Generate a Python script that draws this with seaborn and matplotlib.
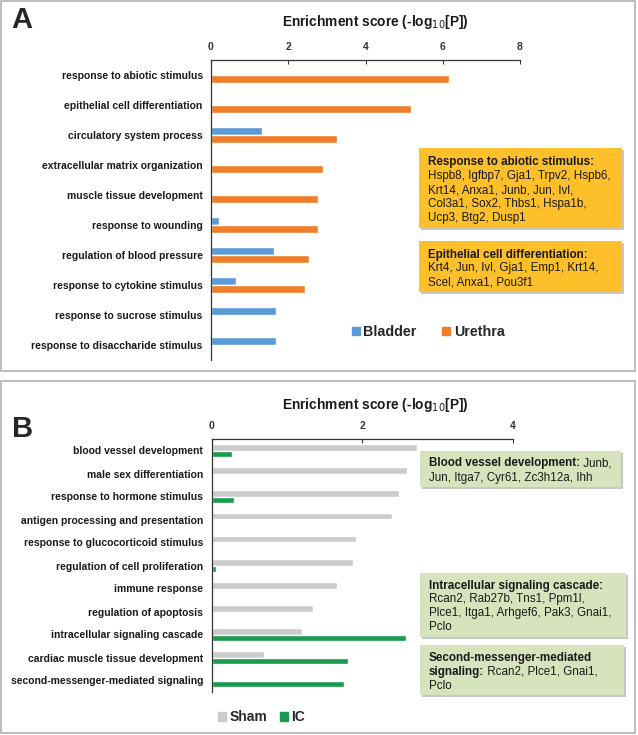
import numpy as np
import pandas as pd
import seaborn as sns
import matplotlib.pyplot as plt
from matplotlib.patches import Rectangle, Patch

# ---- data, panel A ----
terms_a = ["response to abiotic stimulus", "epithelial cell differentiation",
           "circulatory system process", "extracellular matrix organization",
           "muscle tissue development", "response to wounding",
           "regulation of blood pressure", "response to cytokine stimulus",
           "response to sucrose stimulus", "response to disaccharide stimulus"]
bladder = [0, 0, 1.31, 0, 0, 0.21, 1.62, 0.65, 1.69, 1.69]
urethra = [6.17, 5.17, 3.26, 2.90, 2.78, 2.76, 2.55, 2.44, 0, 0]

# ---- data, panel B ----
terms_b = ["blood vessel development", "male sex differentiation",
           "response to hormone stimulus", "antigen processing and presentation",
           "response to glucocorticoid stimulus", "regulation of cell proliferation",
           "immune response", "regulation of apoptosis",
           "intracellular signaling cascade", "cardiac muscle tissue development",
           "second-messenger-mediated signaling"]
sham = [2.73, 2.59, 2.49, 2.40, 1.92, 1.88, 1.67, 1.35, 1.20, 0.70, 0]
ic = [0.27, 0, 0.30, 0, 0, 0.06, 0, 0, 2.58, 1.81, 1.75]

ticks_a = [0, 2, 4, 6, 8]
ticks_b = [0, 2, 4]

W, H = 638, 735
sns.set_style("white")
plt.rcParams['font.family'] = ['Liberation Sans', 'DejaVu Sans']
TXT = "#1a1a1a"

fig = plt.figure(figsize=(W / 100, H / 100), dpi=100)


def px(x, y):
    return x / W, 1 - y / H


def make_axes(x0, x1, y0, y1):
    return fig.add_axes([x0 / W, 1 - y1 / H, (x1 - x0) / W, (y1 - y0) / H])


def style_axis(ax, terms, ticks, xmax):
    n = len(terms)
    ax.set_xlim(0, xmax)
    ax.set_ylim(n - 0.5, -0.5)
    ax.xaxis.tick_top()
    ax.set_xticks(ticks)
    ax.set_xticklabels([str(t) for t in ticks], fontweight="bold", fontsize=7.5, color=TXT)
    ax.tick_params(axis="x", direction="in", length=3, width=0.8, pad=6, colors="#333333")
    ax.set_yticks(range(n))
    ax.set_yticklabels(terms, fontweight="bold", fontsize=7.5, color=TXT)
    ax.tick_params(axis="y", length=0, pad=6)
    ax.set_yticks(np.arange(-0.5, n), minor=True)
    ax.tick_params(axis="y", which="minor", length=3, width=0.8, direction="out", color="#333333")
    for s in ["right", "bottom"]:
        ax.spines[s].set_visible(False)
    for s in ["top", "left"]:
        ax.spines[s].set_color("#333333")
        ax.spines[s].set_linewidth(0.9)
    ax.set_xlabel("")
    ax.set_ylabel("")
    ax.grid(False)


# ---- panel frames ----
fig.patches.append(Rectangle(px(1, 371), 634 / W, 370 / H, transform=fig.transFigure,
                             fill=False, edgecolor="#b0b0b0", lw=1.2))
fig.patches.append(Rectangle(px(1, 733), 634 / W, 352 / H, transform=fig.transFigure,
                             fill=False, edgecolor="#b0b0b0", lw=1.2))

# ---- panel A ----
dfa = pd.DataFrame({"term": terms_a * 2, "score": bladder + urethra,
                    "group": ["Bladder"] * len(terms_a) + ["Urethra"] * len(terms_a)})
axa = make_axes(211, 520, 60, 360)
sns.barplot(data=dfa, y="term", x="score", hue="group", orient="h",
            palette=["#5B9BD5", "#F07D2A"], width=0.52, errorbar=None,
            saturation=1, legend=False, ax=axa)
style_axis(axa, terms_a, ticks_a, 8)

# ---- panel B ----
dfb = pd.DataFrame({"term": terms_b * 2, "score": sham + ic,
                    "group": ["Sham"] * len(terms_b) + ["IC"] * len(terms_b)})
axb = make_axes(211.7, 513, 439, 692)
sns.barplot(data=dfb, y="term", x="score", hue="group", orient="h",
            palette=["#CBCBCB", "#1A9A4C"], width=0.58, errorbar=None,
            saturation=1, legend=False, ax=axb)
style_axis(axb, terms_b, ticks_b, 4)

# titles and panel letters
for y in [22, 405]:
    fig.text(*px(375, y), "Enrichment score (-log$_{10}$[P])", ha="center", va="center",
             fontsize=9.9, fontweight="bold", color=TXT)
fig.text(*px(11, 20), "A", fontsize=21, fontweight="bold", va="center", ha="left")
fig.text(*px(12, 429), "B", fontsize=21, fontweight="bold", va="center", ha="left")

# legends
axa.legend(handles=[Patch(color="#5B9BD5", label="Bladder"), Patch(color="#F07D2A", label="Urethra")],
           loc="center left", bbox_to_anchor=px(339, 332), bbox_transform=fig.transFigure,
           ncol=2, frameon=False, handlelength=0.55, handleheight=0.55, handletextpad=0.25,
           columnspacing=1.8, prop={"weight": "bold", "size": 10.3})
axb.legend(handles=[Patch(color="#CBCBCB", label="Sham"), Patch(color="#1A9A4C", label="IC")],
           loc="center left", bbox_to_anchor=px(205, 717), bbox_transform=fig.transFigure,
           ncol=2, frameon=False, handlelength=0.6, handleheight=0.6, handletextpad=0.25,
           columnspacing=0.9, prop={"weight": "bold", "size": 10})

renderer = fig.canvas.get_renderer()


def note_box(x0, x1, y0, y1, color, lines, line_y):
    fig.patches.append(Rectangle(px(x0 + 2, y1 + 2), (x1 - x0) / W, (y1 - y0) / H,
                                 transform=fig.transFigure, color="#9a9a9a", alpha=0.55, lw=0))
    fig.patches.append(Rectangle(px(x0, y1), (x1 - x0) / W, (y1 - y0) / H,
                                 transform=fig.transFigure, color=color, lw=0))
    for segs, y in zip(lines, line_y):
        x = x0 + 9
        for s, bold in segs:
            t = fig.text(*px(x, y + 4), s, fontsize=8.4, fontweight="bold" if bold else "normal",
                         va="baseline", ha="left", color=TXT)
            x += t.get_window_extent(renderer).width


GOLD = "#FDBF2A"
GREEN = "#D7E3BC"
note_box(419, 622, 148, 228, GOLD,
         [[("Response to abiotic stimulus:", True)],
          [("Hspb8, Igfbp7, Gja1, Trpv2, Hspb6,", False)],
          [("Krt14, Anxa1, Junb, Jun, Ivl,", False)],
          [("Col3a1, Sox2, Thbs1, Hspa1b,", False)],
          [("Ucp3, Btg2, Dusp1", False)]],
         [161, 175.5, 189.3, 203, 216.7])
note_box(419, 622, 241, 292, GOLD,
         [[("Epithelial cell differentiation:", True)],
          [("Krt4, Jun, Ivl, Gja1, Emp1, Krt14,", False)],
          [("Scel, Anxa1, Pou3f1", False)]],
         [254, 267.5, 281.5])
note_box(420, 621, 451, 487, GREEN,
         [[("Blood vessel development:", True), (" Junb,", False)],
          [("Jun, Itga7, Cyr61, Zc3h12a, Ihh", False)]],
         [462, 477])
note_box(420, 626, 573, 637, GREEN,
         [[("Intracellular signaling cascade:", True)],
          [("Rcan2, Rab27b, Tns1, Ppm1l,", False)],
          [("Plce1, Itga1, Arhgef6, Pak3, Gnai1,", False)],
          [("Pclo", False)]],
         [585, 598, 612, 626])
note_box(420, 624, 645, 695, GREEN,
         [[("Second-messenger-mediated", True)],
          [("signaling:", True), (" Rcan2, Plce1, Gnai1,", False)],
          [("Pclo", False)]],
         [657, 671, 685])

fig.savefig("out.png", dpi=100)
